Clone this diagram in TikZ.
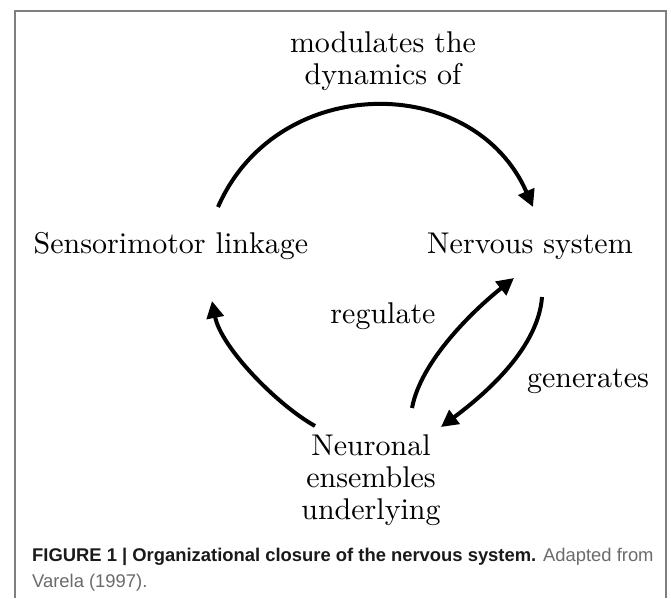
\documentclass[tikz,border=0pt]{standalone}
\usepackage{fontspec}
\usepackage{graphicx}
\newfontfamily\capfont{Liberation Sans}
\usetikzlibrary{arrows.meta}
\definecolor{framegray}{HTML}{7F7F7F}
\definecolor{capdark}{HTML}{1A1A1A}
\definecolor{capgray}{HTML}{6B6B6B}
\newcommand\bigtxt[1]{\scalebox{3}{\fontsize{10}{10.7}\selectfont\begin{tabular}[t]{@{}c@{}}#1\end{tabular}}}
\tikzset{
  lbl/.style={inner sep=0pt, anchor=base, text=black},
  arr/.style={line width=4pt, -{Triangle[length=17pt,width=17pt]}},
  frameline/.style={draw=framegray, line width=1.5pt}
}
\begin{document}
\begin{tikzpicture}[x=1pt,y=-1pt]
\useasboundingbox (0,0) rectangle (671,598);
\fill[white] (0,0) rectangle (671,598);
\draw[frameline] (15,598) -- (15,11) -- (666,11) -- (666,598);

\node[lbl] (mod) at (383,52) {\bigtxt{modulates the\\dynamics of}};
\node[lbl] (sens) at (171,253) {\bigtxt{Sensorimotor linkage}};
\node[lbl] (nerv) at (530,253) {\bigtxt{Nervous system}};
\node[lbl] (reg) at (383,323) {\bigtxt{regulate}};
\node[lbl] (gen) at (588,387) {\bigtxt{generates}};
\node[lbl] (neur) at (371,455) {\bigtxt{Neuronal\\ensembles\\underlying}};

\coordinate (topS) at (218,207);
\coordinate (topE) at (533,207);
\coordinate (leftS) at (315,426);
\coordinate (leftE) at (212,301);
\coordinate (regS) at (412,408);
\coordinate (regE) at (514,278);
\coordinate (genS) at (542,297);
\coordinate (genE) at (441,427);

\draw[arr] (topS) .. controls (277,72) and (474,72) .. (topE);
\draw[arr] (leftS) .. controls (276,404) and (221,347) .. (leftE);
\draw[arr] (regS) .. controls (421,360) and (475,309) .. (regE);
\draw[arr] (genS) .. controls (538,352) and (477,400) .. (genE);

\node[anchor=base west, inner sep=0pt, align=left, font={\capfont\fontsize{18.4}{26}\selectfont}] (cap) at (32,587)
  {\textcolor{capdark}{\bfseries FIGURE 1 | Organizational closure of the nervous system.} \textcolor{capgray}{Adapted from}\\
   \textcolor{capgray}{Varela (1997).}};
\end{tikzpicture}
\end{document}
